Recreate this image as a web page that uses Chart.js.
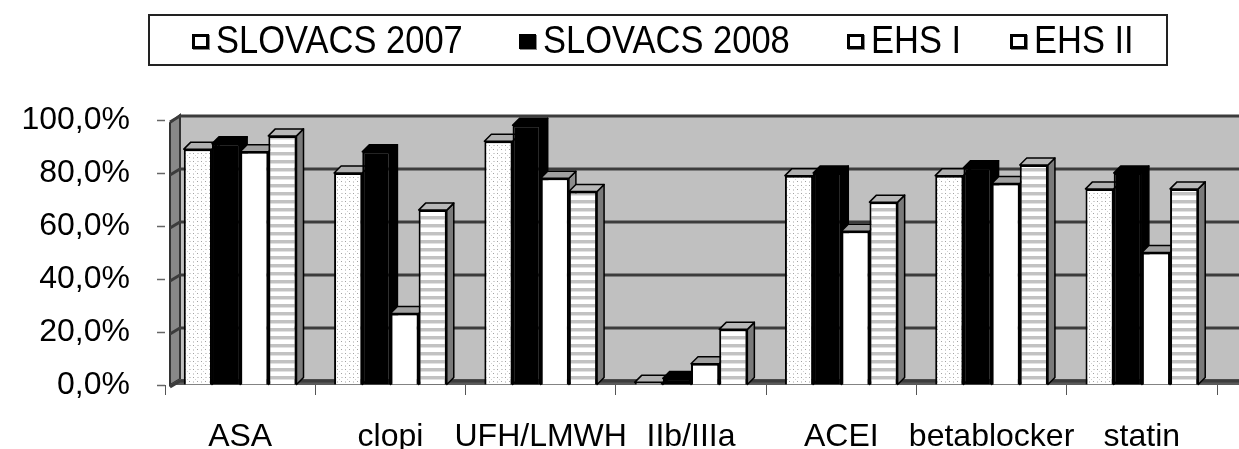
<!DOCTYPE html>
<html>
<head>
<meta charset="utf-8">
<script src="https://cdn.jsdelivr.net/npm/chart.js@4.4.1/dist/chart.umd.min.js"></script>
<style>
  html, body { margin: 0; padding: 0; background: #fff; }
  #wrap { position: relative; width: 1239px; height: 449px; }
  #legend {
    position: absolute; left: 148px; top: 14px; width: 1016px; height: 48px;
    border: 2px solid #222; font-family: "Liberation Sans", Arial, sans-serif; font-size: 34.5px; color: #000;
  }
  .item { position: absolute; top: 0; height: 48px; line-height: 48px; white-space: nowrap; }
  .txt { display: inline-block; transform: scaleY(1.1); transform-origin: 50% 55%; }
  .mk {
    display: inline-block; width: 11px; height: 9px; border: 3px solid #000; background: #fff;
    box-shadow: 1px 1px 0 #888; margin-right: 7px; vertical-align: 3px;
  }
</style>
</head>
<body>
<div id="wrap">
  <canvas id="chart" width="1239" height="449"></canvas>
  <div id="legend"></div>
</div>
<script>
// ------ Data ------
const categories  = ['ASA', 'clopi', 'UFH/LMWH', 'IIb/IIIa', 'ACEI', 'betablocker', 'statin'];
const seriesNames = ['SLOVACS 2007', 'SLOVACS 2008', 'EHS I', 'EHS II'];
const slovacs2007 = [89, 80, 92, 1, 79, 79, 74];
const slovacs2008 = [91, 88, 98, 2.5, 80, 82, 80];
const ehsI        = [88, 27, 78, 8, 58, 76, 50];
const ehsII       = [94, 66, 73, 21, 69, 83, 74];
const yTicks      = [0, 20, 40, 60, 80, 100];

const FONT = '"Liberation Sans", Arial, sans-serif';

// ------ Legend (HTML) ------
const legendLeft = [42, 369, 697, 860];
const legendFill = ['#fff', '#000', '#fff', '#fff'];
document.getElementById('legend').innerHTML = seriesNames.map((n, i) =>
  `<span class="item" style="left:${legendLeft[i]}px"><span class="mk" style="background:${legendFill[i]}"></span><span class="txt">${n}</span></span>`
).join('');

// ------ Fill patterns ------
const mainCtx = document.getElementById('chart').getContext('2d');
function makePattern(w, h, draw) {
  const c = document.createElement('canvas');
  c.width = w; c.height = h;
  draw(c.getContext('2d'));
  return mainCtx.createPattern(c, 'repeat');
}
const dots = makePattern(8, 8, g => {
  g.fillStyle = '#fff'; g.fillRect(0, 0, 8, 8);
  g.fillStyle = '#a0a0a0'; g.fillRect(1, 1, 1, 1); g.fillRect(5, 5, 1, 1);
  g.fillStyle = '#d2d2d2'; g.fillRect(5, 1, 2, 1); g.fillRect(1, 5, 1, 2); g.fillRect(3, 3, 1, 1);
});
const stripes = makePattern(4, 8, g => {
  g.fillStyle = '#fff'; g.fillRect(0, 0, 4, 8);
  g.fillStyle = '#c2c2c2'; g.fillRect(0, 0, 4, 3);
  g.fillStyle = '#e2e2e2'; g.fillRect(0, 3, 4, 1);
});

const frontFill  = [dots, '#000', '#fff', stripes];
const sideColors = ['#8a8a8a', '#000', '#8c8c8c', '#7a7a7a'];
const capColors  = ['#b0b0b0', '#000', '#a0a0a0', '#b8b8b8'];

// ------ Plugins ------
const wall = {
  id: 'wall',
  beforeDraw(chart) {
    const { ctx, chartArea: a, width } = chart;
    const L = a.left, T = a.top, B = a.bottom;
    ctx.save();
    // back wall
    ctx.fillStyle = '#c0c0c0';
    ctx.fillRect(L + 15, T - 5, width - L - 15, B - T + 5);
    // left side wall
    ctx.fillStyle = '#888';
    ctx.beginPath();
    ctx.moveTo(L + 5, T + 3); ctx.lineTo(L + 15, T - 5); ctx.lineTo(L + 15, B - 6); ctx.lineTo(L + 5, B);
    ctx.closePath(); ctx.fill();
    ctx.strokeStyle = '#333'; ctx.lineWidth = 2; ctx.stroke();
    // floor
    ctx.fillStyle = '#5a5a5a';
    ctx.beginPath();
    ctx.moveTo(L + 5, B); ctx.lineTo(L + 15, B - 6); ctx.lineTo(width, B - 6); ctx.lineTo(width, B);
    ctx.closePath(); ctx.fill();
    ctx.restore();
  },
  beforeDatasetsDraw(chart) {
    const { ctx, chartArea: a, width, scales } = chart;
    const L = a.left;
    ctx.save();
    ctx.strokeStyle = '#3c3c3c'; ctx.lineWidth = 3;
    yTicks.forEach(v => {
      const y = scales.y.getPixelForValue(v);
      ctx.beginPath();
      ctx.moveTo(L + 5, y + 2); ctx.lineTo(L + 15, y - 4); ctx.lineTo(width, y - 4);
      ctx.stroke();
    });
    ctx.restore();
  }
};

const bars3d = {
  id: 'bars3d',
  beforeDatasetsDraw(chart) {
    const ctx = chart.ctx, dx = 7, dy = 7;
    ctx.save();
    ctx.lineWidth = 1.5; ctx.strokeStyle = '#000'; ctx.lineJoin = 'round';
    for (let i = 0; i < categories.length; i++) {
      chart.data.datasets.forEach((ds, d) => {
        const el = chart.getDatasetMeta(d).data[i];
        const l = el.x - el.width / 2, r = el.x + el.width / 2, t = el.y, b = el.base;
        // right side face
        ctx.beginPath();
        ctx.moveTo(r, b); ctx.lineTo(r, t); ctx.lineTo(r + dx, t - dy); ctx.lineTo(r + dx, b - dy);
        ctx.closePath();
        ctx.fillStyle = sideColors[d]; ctx.fill(); ctx.stroke();
        // top face
        ctx.beginPath();
        ctx.moveTo(l, t); ctx.lineTo(l + dx, t - dy); ctx.lineTo(r + dx, t - dy); ctx.lineTo(r, t);
        ctx.closePath();
        ctx.fillStyle = capColors[d]; ctx.fill(); ctx.stroke();
      });
    }
    ctx.restore();
  }
};

// ------ Chart ------
const seriesData = [slovacs2007, slovacs2008, ehsI, ehsII];

new Chart(mainCtx, {
  type: 'bar',
  data: {
    labels: categories,
    datasets: seriesNames.map((name, i) => ({
      label: name,
      data: seriesData[i],
      backgroundColor: frontFill[i],
      borderColor: '#000',
      borderWidth: 2,
      categoryPercentage: 0.75,
      barPercentage: 1
    }))
  },
  options: {
    responsive: false,
    animation: false,
    events: [],
    layout: { padding: { top: 120, right: 22, left: 0, bottom: 0 } },
    plugins: { legend: { display: false }, tooltip: { enabled: false } },
    scales: {
      x: {
        offset: true,
        border: { display: false },
        grid: { drawOnChartArea: false, drawTicks: true, tickLength: 10, tickColor: '#555', tickWidth: 1, offset: true },
        ticks: { font: { family: FONT, size: 32 }, color: '#000', padding: 23, maxRotation: 0, autoSkip: false },
        afterFit: s => { s.height = 64; }
      },
      y: {
        min: 0, max: 100,
        border: { display: false },
        grid: { drawOnChartArea: false, drawTicks: true, tickLength: 8, tickColor: '#666', tickWidth: 1.5 },
        afterBuildTicks: s => { s.ticks = yTicks.map(v => ({ value: v })); },
        ticks: {
          font: { family: FONT, size: 32 }, color: '#000', padding: 27,
          callback: v => v.toFixed(1).replace('.', ',') + '%'
        },
        afterFit: s => { s.width = 165; }
      }
    }
  },
  plugins: [wall, bars3d]
});
</script>
</body>
</html>
